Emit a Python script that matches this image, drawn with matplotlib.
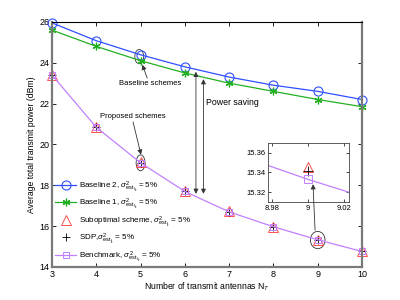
import matplotlib
matplotlib.use('Agg')
import matplotlib.pyplot as plt
from matplotlib.patches import Ellipse
import numpy as np

plt.rcParams['font.family'] = ['Liberation Sans', 'DejaVu Sans']
plt.rcParams['mathtext.fontset'] = 'custom'
plt.rcParams['mathtext.rm'] = 'Liberation Sans'
plt.rcParams['mathtext.it'] = 'Liberation Sans:italic'

# data
n_t = [3, 4, 5, 6, 7, 8, 9, 10]
baseline2 = [25.95, 25.08, 24.39, 23.8, 23.3, 22.9, 22.6, 22.2]
baseline1 = [25.6, 24.8, 24.1, 23.5, 23.0, 22.6, 22.2, 21.85]
suboptimal = [23.42, 20.86, 19.12, 17.72, 16.72, 15.98, 15.345, 14.77]
sdp = [23.4, 20.84, 19.1, 17.7, 16.7, 15.97, 15.341, 14.76]
benchmark = [23.4, 20.84, 19.1, 17.7, 16.7, 15.97, 15.333, 14.76]

lab = r'$\sigma^2_{\mathrm{est}_{l_k}}$ = 5%'

fig = plt.figure(figsize=(4, 3), dpi=100)
ax = fig.add_axes([0.13, 0.11, 0.775, 0.817])

c_blue = '#3050ff'
c_green = '#22b022'
c_red = '#ff5050'
c_purple = '#c080ff'

def draw(a, ms=1.0, clip=False):
    a.plot(n_t, baseline2, color=c_blue, lw=0.9, marker='o', ms=6.5*ms, mfc='none', mew=0.8,
           label='Baseline 2, ' + lab, clip_on=clip)
    a.plot(n_t, baseline1, color=c_green, lw=0.9, marker=(6, 2, 0), ms=5.5*ms, mew=0.9,
           label='Baseline 1, ' + lab, clip_on=clip)
    a.plot(n_t, suboptimal, ls='none', color=c_red, marker='^', ms=6.5*ms, mfc='none', mew=0.7,
           label='Suboptimal scheme, ' + lab, clip_on=clip)
    a.plot(n_t, sdp, ls='none', color='black', marker='+', ms=6*ms, mew=0.6,
           label='SDP,' + lab, clip_on=clip)
    a.plot(n_t, benchmark, color=c_purple, lw=0.9, marker='s', ms=5*ms, mfc='none', mew=0.7,
           label='Benchmark, ' + lab, clip_on=clip)

draw(ax)
ax.set_xlim(3, 10)
ax.set_ylim(14, 26)
ax.set_xticks(range(3, 11))
ax.set_yticks(range(14, 27, 2))
ax.tick_params(direction='in', top=True, right=True, labelsize=6.5, length=3, width=0.6, pad=2)
for s in ['left', 'bottom', 'right']:
    ax.spines[s].set_color('#7a7a7a')
    ax.spines[s].set_linewidth(1.6)
ax.spines['top'].set_linewidth(0.8)
ax.set_xlabel(r'Number of transmit antennas N$_T$', fontsize=6.2, labelpad=1)
ax.set_ylabel('Average total transmit power (dBm)', fontsize=6.2, labelpad=2)

leg = ax.legend(loc='lower left', frameon=False, fontsize=5.8, handlelength=2.6,
                handletextpad=0.4, labelspacing=0.35, borderaxespad=0.0,
                bbox_to_anchor=(0.0, 0.0))

# ellipses and annotations
for (cx, cy, w, h) in [(4.97, 24.3, 0.2, 0.7), (5.0, 19.1, 0.2, 0.78), (9.0, 15.32, 0.33, 0.85)]:
    ax.add_patch(Ellipse((cx, cy), w, h, fill=False, color='#333333', lw=0.6))

arr = dict(arrowstyle='-|>', color='#333333', lw=0.6, mutation_scale=7, shrinkA=0, shrinkB=0)
ax.text(5.21, 22.97, 'Baseline schemes', fontsize=5.5, ha='center', va='center')
ax.annotate('', xy=(5.04, 23.9), xytext=(5.15, 23.25), arrowprops=arr)
ax.text(4.83, 21.35, 'Proposed schemes', fontsize=5.5, ha='center', va='center')
ax.annotate('', xy=(5.01, 19.5), xytext=(4.83, 21.1), arrowprops=arr)

dbl = dict(arrowstyle='<|-|>', color='#333333', lw=0.6, mutation_scale=7, shrinkA=0, shrinkB=0)
ax.annotate('', xy=(6.25, 23.56), xytext=(6.25, 17.58), arrowprops=dbl)
ax.annotate('', xy=(6.42, 23.2), xytext=(6.42, 17.58), arrowprops=dbl)
ax.text(6.48, 22.05, 'Power saving', fontsize=6.3, ha='left', va='center')

# inset
ins = fig.add_axes([0.67, 0.327, 0.2025, 0.197])
draw(ins, ms=1.15, clip=True)
ins.set_xlim(8.978, 9.023)
ins.set_ylim(15.31, 15.37)
ins.set_xticks([8.98, 9, 9.02])
ins.set_xticklabels(['8.98', '9', '9.02'])
ins.set_yticks([15.32, 15.34, 15.36])
ins.tick_params(direction='in', top=True, right=True, labelsize=5.5, length=2.5, width=0.5, pad=2)
for s in ins.spines.values():
    s.set_linewidth(0.6)
    s.set_color('#444444')

ins.annotate('', xy=(9.003, 15.328), xycoords='data',
             xytext=(8.94, 15.8), textcoords=ax.transData,
             arrowprops=arr, annotation_clip=False)

fig.savefig('out.png', dpi=100)
